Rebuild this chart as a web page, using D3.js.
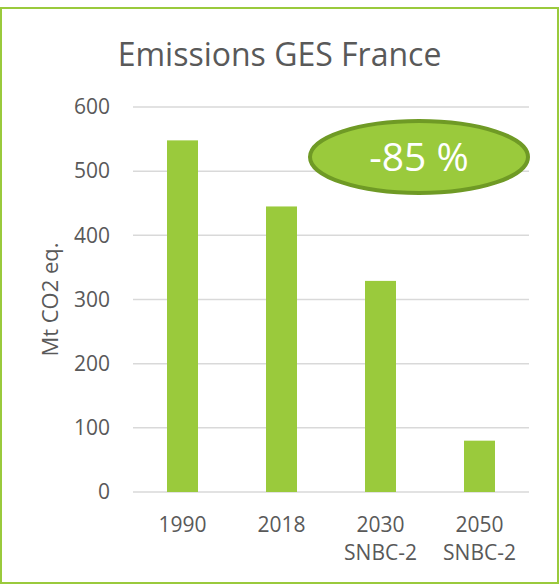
<!DOCTYPE html>
<html>
<head>
<meta charset="utf-8">
<script src="https://cdn.jsdelivr.net/npm/d3@7"></script>
<style>
  body { margin: 0; background: #fff; }
  text { font-family: "Open Sans", sans-serif; fill: #595959; }
</style>
</head>
<body>
<svg class="chart"></svg>
<script>
var years = ["1990", "2018", "2030", "2050"];
var scenarios = ["", "", "SNBC-2", "SNBC-2"];
var emissions = [548, 445, 329, 80];
var yTicks = [0, 100, 200, 300, 400, 500, 600];
var title = "Emissions GES France";
var yLabel = "Mt CO2 eq.";
var badge = "-85 %";

var W = 559, H = 584;
var margin = {top: 107, right: 30, bottom: 92, left: 133};
var width = W - margin.left - margin.right,
    height = H - margin.top - margin.bottom;

var green = "#9aca3c";

var chart = d3.select(".chart")
    .attr("width", W)
    .attr("height", H);

// outer frame
chart.append("rect")
    .attr("x", 1).attr("y", 8)
    .attr("width", W - 2).attr("height", H - 9)
    .attr("fill", "none")
    .attr("stroke", green)
    .attr("stroke-width", 2);

chart.append("text")
    .attr("x", W / 2)
    .attr("y", 66)
    .attr("text-anchor", "middle")
    .style("font-size", "32px")
    .text(title);

var g = chart.append("g").attr("transform", "translate(" + margin.left + "," + margin.top + ")");

var xScale = d3.scaleBand()
    .domain(years)
    .range([0, width])
    .paddingInner(0.687)
    .paddingOuter(0.3435);

var yScale = d3.scaleLinear()
    .domain([0, 600])
    .range([height, 0]);

// grid
g.append("g")
    .selectAll("line")
    .data(yTicks)
  .enter().append("line")
    .attr("x1", 0).attr("x2", width)
    .attr("y1", function(d) { return yScale(d); })
    .attr("y2", function(d) { return yScale(d); })
    .attr("stroke", "#d9d9d9")
    .attr("stroke-width", 1.5);

var yAxis = g.append("g")
    .call(d3.axisLeft(yScale).tickValues(yTicks).tickSize(0).tickPadding(23));
yAxis.select(".domain").remove();
yAxis.selectAll("text").style("font-size", "21px").attr("fill", "#595959");

g.selectAll(".bar")
    .data(emissions)
  .enter().append("rect")
    .attr("class", "bar")
    .attr("x", function(d, i) { return xScale(years[i]); })
    .attr("width", xScale.bandwidth())
    .attr("y", function(d) { return yScale(d); })
    .attr("height", function(d) { return height - yScale(d); })
    .attr("fill", green);

var xAxis = g.append("g")
    .attr("transform", "translate(0," + height + ")")
    .call(d3.axisBottom(xScale).tickSize(0).tickPadding(0));
xAxis.select(".domain").remove();
xAxis.selectAll("text").remove();
xAxis.selectAll(".tick").each(function(d, i) {
  var t = d3.select(this).append("text")
      .attr("text-anchor", "middle")
      .attr("fill", "#595959")
      .style("font-size", "21px");
  t.append("tspan").attr("x", 0).attr("y", 40).text(d);
  if (scenarios[i]) t.append("tspan").attr("x", 0).attr("y", 68).text(scenarios[i]);
});

g.append("text")
    .attr("transform", "rotate(-90)")
    .attr("x", -height / 2)
    .attr("y", -75)
    .attr("text-anchor", "middle")
    .style("font-size", "22px")
    .text(yLabel);

// -85 % badge
var badgeG = chart.append("g").attr("transform", "translate(419,157)");
badgeG.append("ellipse")
    .attr("rx", 109).attr("ry", 36)
    .attr("fill", green)
    .attr("stroke", "#6f9a25")
    .attr("stroke-width", 4);
badgeG.append("text")
    .attr("text-anchor", "middle")
    .attr("y", 14)
    .style("font-size", "39px")
    .style("fill", "#fff")
    .text(badge);
</script>
</body>
</html>
